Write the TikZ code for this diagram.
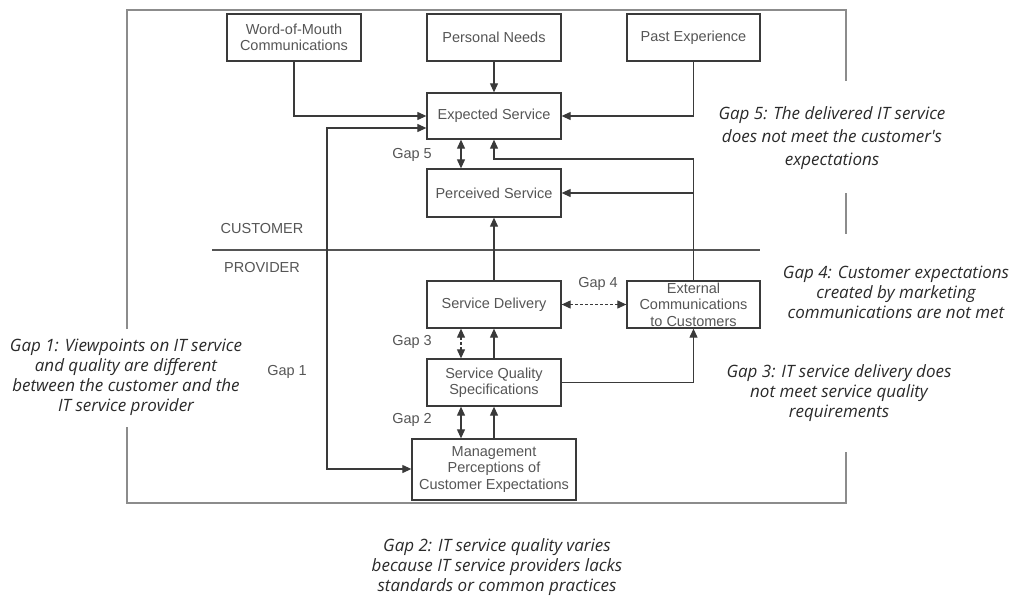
\documentclass[tikz,border=0pt]{standalone}
\usepackage{fontspec}
\setmainfont{Liberation Sans}
\newfontfamily\annfont{Open Sans}
\usetikzlibrary{arrows.meta}
\definecolor{boxline}{HTML}{3A3A3A}
\definecolor{boxtext}{HTML}{555555}
\definecolor{frameline}{HTML}{8C8C8C}
\definecolor{anntext}{HTML}{2A2A2A}
\tikzset{
  box/.style={draw=boxline, line width=1.3pt, text=boxtext, font=\fontsize{14.5}{16.5}\selectfont, align=center, inner sep=0pt, minimum width=134pt, minimum height=47pt},
  conn/.style={draw=boxline, line width=1.1pt},
  arr/.style={conn, -{Triangle[length=9pt,width=8pt]}},
  dbl/.style={conn, {Triangle[length=9pt,width=8pt]}-{Triangle[length=9pt,width=8pt]}},
  lbl/.style={text=boxtext, font=\fontsize{14.5}{16}\selectfont, inner sep=0pt},
  frame/.style={draw=frameline, line width=2pt},
  ann/.style={text=anntext, align=center, inner sep=0pt, font=\annfont\itshape\fontsize{17}{#1}\selectfont},
}
\begin{document}
\begin{tikzpicture}[x=1pt,y=-1pt]
\useasboundingbox (0,0) rectangle (1018,597);
% frame
\draw[frame] (127,329) -- (127,10) -- (846,10) -- (846,81);
\draw[frame] (846,193) -- (846,234);
\draw[frame] (846,452) -- (846,503) -- (127,503) -- (127,427);
% divider
\draw[draw=boxtext, line width=1.3pt] (212,250) -- (760,250);
% boxes
\node[box] (wom) at (294,37.5) {Word-of-Mouth\\Communications};
\node[box] (pn) at (494,37.5) {Personal Needs};
\node[box, minimum width=133pt] (pe) at (693.5,37.5) {Past Experience};
\node[box, minimum height=46pt] (es) at (494,116) {Expected Service};
\node[box, minimum height=48pt] (ps) at (494,193) {Perceived Service};
\node[box] (sd) at (494,304.5) {Service Delivery};
\node[box, minimum width=133pt] (ec) at (693.5,304.5) {External\\Communications\\to Customers};
\node[box] (sq) at (494,382.5) {Service Quality\\Specifications};
\node[box, minimum width=164pt, minimum height=61pt] (mp) at (494,469.5) {Management\\Perceptions of\\Customer Expectations};
% labels
\node[lbl] (cust) at (262,229) {CUSTOMER};
\node[lbl] (prov) at (262,268) {PROVIDER};
\node[lbl] (g5) at (412,155) {Gap 5};
\node[lbl] (g4) at (598,284) {Gap 4};
\node[lbl] (g3) at (412,342) {Gap 3};
\node[lbl] (g2) at (412,420) {Gap 2};
\node[lbl] (g1) at (287,372) {Gap 1};
% connectors
\draw[arr] (wom.south) |- (es.west);
\draw[arr] (pn.south) -- (es.north);
\draw[arr] (pe.south) |- (es.east);
\coordinate (g1t) at (327,128);
\coordinate (g1b) at (327,469);
\draw[dbl] (es.west |- g1t) -- (g1t) -- (g1b) -- (mp.west |- g1b);
\draw[dbl] ([xshift=-33pt]es.south) -- ([xshift=-33pt]ps.north);
\coordinate (fb) at (693.5,159);
\draw[arr] (ec.north) -- (fb) -| (es.south);
\draw[arr] (ec.north |- ps.east) -- (ps.east);
\draw[arr] (sd.north) -- (ps.south);
\draw[dbl, densely dashed] (sd.east) -- (ec.west);
\draw[dbl, densely dashed] ([xshift=-33pt]sq.north) -- ([xshift=-33pt]sd.south);
\draw[arr] (sq.north) -- (sd.south);
\draw[arr] (sq.east) -| (ec.south);
\draw[dbl] ([xshift=-33pt]mp.north) -- ([xshift=-33pt]sq.south);
\draw[arr] (mp.north) -- (sq.south);
% annotations
\node[ann=23] (a5) at (832,138) {Gap 5: The delivered IT service\\does not meet the customer's\\expectations};
\node[ann=20] (a4) at (896,292) {Gap 4: Customer expectations\\created by marketing\\communications are not met};
\node[ann=20] (a3) at (839,393) {Gap 3: IT service delivery does\\not meet service quality\\requirements};
\node[ann=20] (a1) at (126,377) {Gap 1: Viewpoints on IT service\\and quality are different\\between the customer and the\\IT service provider};
\node[ann=20] (a2) at (497,567) {Gap 2: IT service quality varies\\because IT service providers lacks\\standards or common practices};
\end{tikzpicture}
\end{document}
